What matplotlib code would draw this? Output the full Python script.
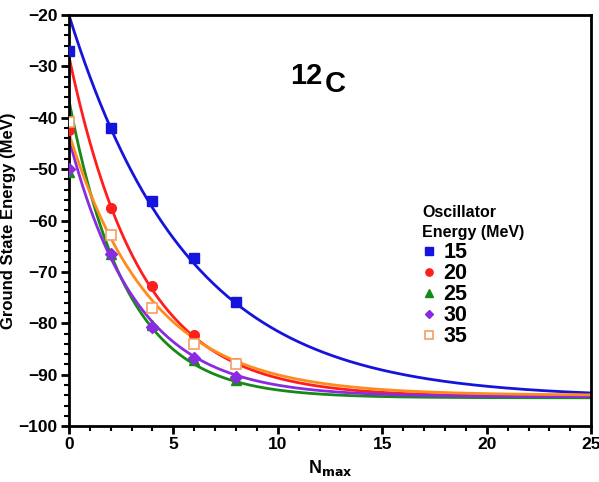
import numpy as np
import matplotlib
matplotlib.use("Agg")
from matplotlib import pyplot as plt
from matplotlib.ticker import MultipleLocator

plt.rcParams['font.family'] = ['Liberation Sans', 'DejaVu Sans']
plt.rcParams['font.weight'] = 'bold'

# Oscillator energies (MeV) and computed points
hw = ["15", "20", "25", "30", "35"]
nmax = [0, 2, 4, 6, 8]
e15 = [-27.0, -42.0, -56.2, -67.3, -75.9]
e20 = [-42.3, -57.6, -72.8, -82.3, -87.8]
e25 = [-50.5, -66.5, -80.3, -87.2, -91.0]
e30 = [-50.0, -66.6, -80.8, -86.8, -90.4]
e35 = [-40.8, -62.8, -77.0, -84.0, -88.0]

# exponential extrapolation: E = E_inf + a * exp(-b * Nmax)
e_inf = [-94.5, -94.3, -94.5, -94.3, -94.0]
amp = [74.5, 66.3, 58.0, 50.3, 51.0]
rate = [0.175, 0.290, 0.364, 0.310, 0.255]

colors = ['#1414dc', '#ff1e1e', '#168a16', '#8a2be2', '#ff8c1a']
markers = ['s', 'o', '^', 'D', 's']

fig = plt.figure(figsize=(5.99, 4.82), dpi=100)
ax = fig.add_axes([0.115, 0.116, 0.872, 0.853])

xx = np.linspace(0, 25, 300)
for i, e in enumerate([e15, e20, e25, e30, e35]):
    yy = e_inf[i] + amp[i] * np.exp(-rate[i] * xx)
    ax.plot(xx, yy, color=colors[i], lw=2, zorder=2)
for i, e in enumerate([e15, e20, e25, e30, e35]):
    if i == 4:
        ax.plot(nmax, e, ls='none', marker='s', ms=7, mfc='white',
                mec='#f5a060', mew=1.2, label=hw[i], zorder=3)
    else:
        ax.plot(nmax, e, ls='none', marker=markers[i], ms=7 if i != 3 else 6,
                color=colors[i], label=hw[i], zorder=3)

ax.set_xlim(0, 25)
ax.set_ylim(-100, -20)
ax.xaxis.set_major_locator(MultipleLocator(5))
ax.xaxis.set_minor_locator(MultipleLocator(1))
ax.yaxis.set_major_locator(MultipleLocator(10))
ax.yaxis.set_minor_locator(MultipleLocator(2))
ax.tick_params(which='major', direction='out', length=6, width=2, labelsize=12.5, pad=2)
ax.tick_params(which='minor', direction='out', length=3.5, width=1.5)
for s in ax.spines.values():
    s.set_linewidth(2)
for lab in ax.get_xticklabels() + ax.get_yticklabels():
    lab.set_fontweight('bold')

ax.set_xlabel("N$_{\\mathbf{max}}$", fontsize=13, fontweight='bold', labelpad=4)
ax.set_ylabel("Ground State Energy (MeV)", fontsize=12, fontweight='bold', labelpad=2)

ax.text(0.423, 0.831, "12", transform=ax.transAxes, fontsize=21,
        fontweight='bold', ha='left', va='baseline')
ax.text(0.489, 0.812, "C", transform=ax.transAxes, fontsize=21,
        fontweight='bold', ha='left', va='baseline')

# legend title as its own text, entries below it
ax.text(0.676, 0.538, "Oscillator\nEnergy (MeV)", transform=ax.transAxes,
        fontsize=11.5, fontweight='bold', ha='left', va='top', linespacing=1.4)
leg = ax.legend(loc='upper left', bbox_to_anchor=(0.668, 0.458), frameon=False,
                handlelength=0.6, handletextpad=0.4, labelspacing=0.0,
                markerscale=0.75, borderpad=0.2, borderaxespad=0,
                prop={'size': 15.5, 'weight': 'bold'})

fig.savefig("out.png", dpi=100)
